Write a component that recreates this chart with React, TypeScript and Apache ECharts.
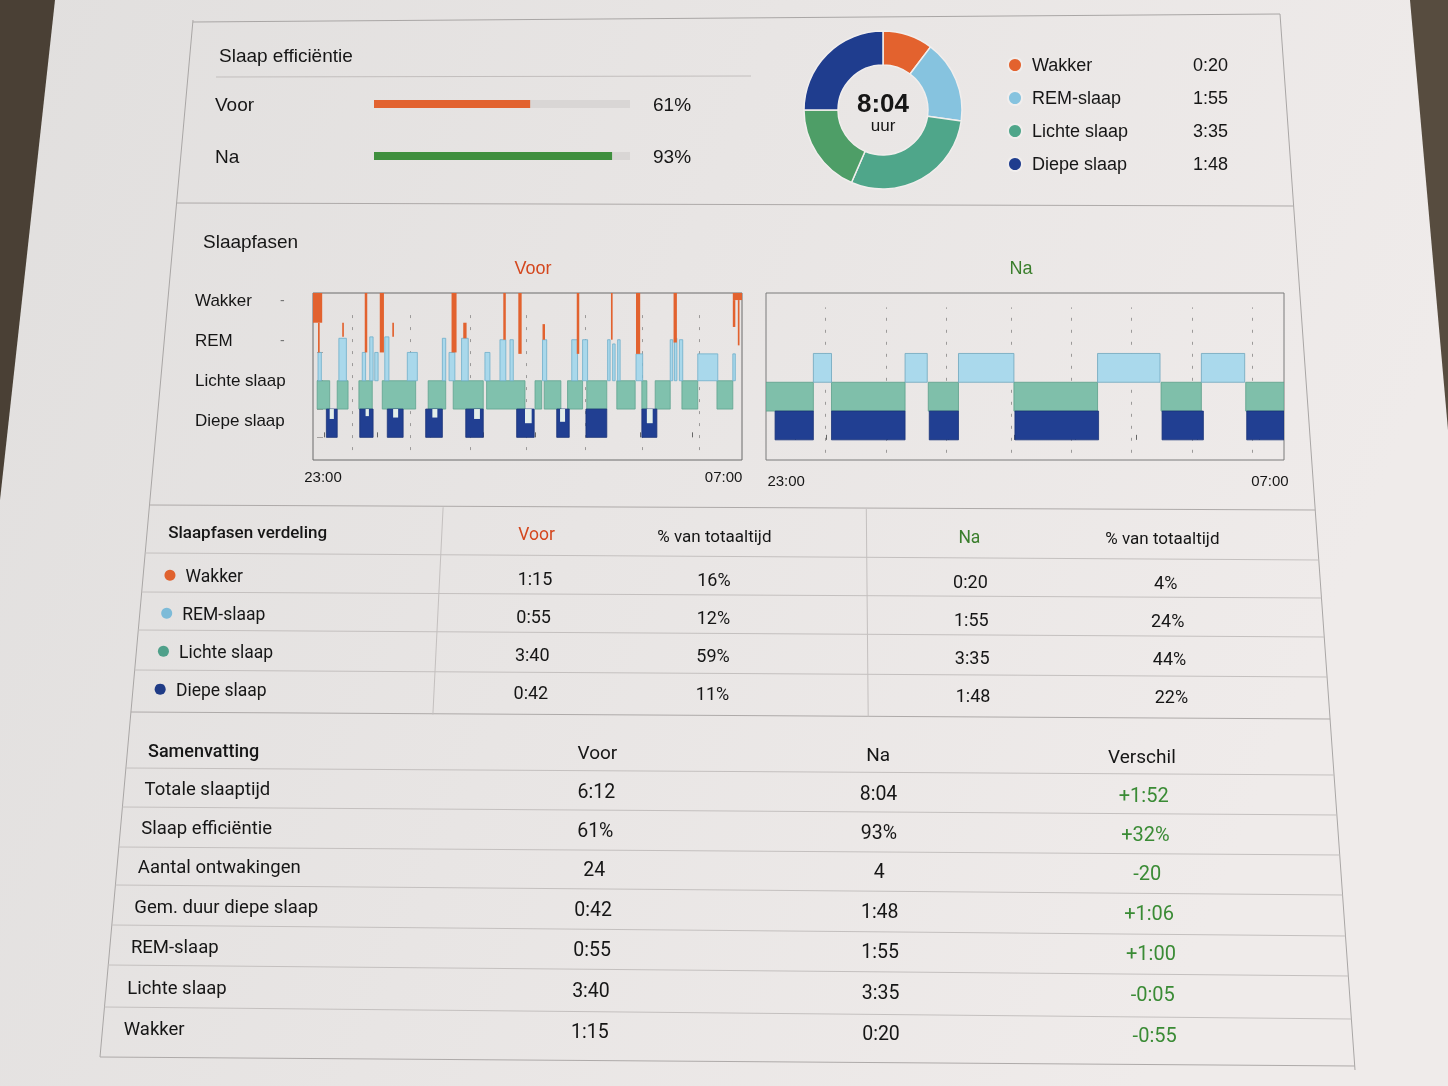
import React, { useEffect, useRef } from 'react';
import * as echarts from 'echarts';

// ---------------- data ----------------
const stages = ['Wakker', 'REM-slaap', 'Lichte slaap', 'Diepe slaap'];
const stageAxisLabels = ['Wakker', 'REM', 'Lichte slaap', 'Diepe slaap'];
const stageDotColors = ['#E0622E', '#7DBBD8', '#4FA08A', '#1F3B86'];
const periods = ['Voor', 'Na'];
const efficiency = [61, 93];
const effColors = ['#E2622F', '#3F8F3E'];
const voorDurations = ['1:15', '0:55', '3:40', '0:42'];
const voorPct = [16, 12, 59, 11];
const naDurations = ['0:20', '1:55', '3:35', '1:48'];
const naPct = [4, 24, 44, 22];
const totalNa = '8:04';
const donutNames = ['Wakker', 'REM-slaap', 'Lichte slaap', 'Lichte slaap', 'Diepe slaap'];
const donutSlices = [37, 61, 105.5, 66.5, 90];
const donutColors = ['#E3622E', '#86C3DF', '#4FA68A', '#4E9E67', '#1F3D8E'];

const summaryLabels = ['Totale slaaptijd', 'Slaap efficiëntie', 'Aantal ontwakingen', 'Gem. duur diepe slaap', 'REM-slaap', 'Lichte slaap', 'Wakker'];
const summaryVoor = ['6:12', '61%', '24', '0:42', '0:55', '3:40', '1:15'];
const summaryNa = ['8:04', '93%', '4', '1:48', '1:55', '3:35', '0:20'];
const summaryDiff = ['+1:52', '+32%', '-20', '+1:06', '+1:00', '-0:05', '-0:55'];

// hypnogram time in minutes after 23:00; stage levels: diep 0-1, licht 1-2, REM 2-3, wakker 3+
const timeLabelMinutes = [0, 480];
const voorLight = [[-7, 8], [17, 30], [43, 59], [71, 111], [126, 147], [156, 192], [196, 242], [254, 262], [265, 285], [293, 311], [316, 340], [352, 374], [382, 388], [398, 416], [430, 449], [472, 491]];
const voorDeep = [[4, 17], [44, 60], [77, 96], [123, 143], [171, 192], [232, 253], [280, 295], [315, 340], [382, 400]];
const voorDeepNotches = [[8, 13, 0.65], [51, 55, 0.75], [84, 90, 0.7], [131, 137, 0.7], [181, 188, 0.65], [242, 250, 0.5], [284, 290, 0.55], [388, 395, 0.5]];
const voorRem = [
  [-6, -2, 3.0], [19, 28, 3.5], [47, 51, 3.0], [56, 60, 3.55], [62, 66, 3.0], [74, 79, 3.55],
  [101, 113, 3.0], [143, 147, 3.5], [151, 158, 3.0], [166, 174, 3.5], [194, 200, 3.0],
  [212, 219, 3.45], [224, 228, 3.45], [263, 268, 3.45], [298, 305, 3.45], [311, 317, 3.45],
  [341, 344, 3.45], [347, 350, 3.3], [353, 356, 3.45], [375, 383, 2.95],
  [416, 419, 3.45], [421, 424, 3.5], [427, 431, 3.45], [449, 473, 2.95], [491, 494, 2.95],
];
const voorWake = [
  [-12, -1, 4.05, 5.1], [-6, -4, 3.0, 4.05], [23, 25, 3.55, 4.05], [50, 53, 3.0, 5.1], [68, 73, 3.0, 5.1],
  [83, 85, 3.55, 4.05], [154, 160, 3.0, 5.1], [168, 172, 3.5, 4.05], [216, 219, 3.45, 5.1],
  [234, 238, 2.95, 5.1], [263, 266, 3.45, 4.0], [304, 307, 2.95, 5.1], [345, 347, 3.45, 5.1],
  [375, 380, 2.95, 5.1], [420, 424, 3.35, 5.1], [491, 502, 4.85, 5.1], [491, 494, 3.9, 4.85], [497, 499, 3.25, 4.85],
];
const voorTicks = [2, 65, 128, 192, 254, 316, 380, 442];
const voorDashes = [35, 105, 177, 244, 314, 382, 451];

const naLight = [[-20, 27], [45, 118], [141, 171], [226, 309], [372, 412], [456, 494]];
const naDeep = [[-11, 27], [45, 118], [142, 171], [227, 310], [373, 414], [457, 494]];
const naRem = [[27, 45], [118, 140], [171, 226], [309, 371], [412, 455]];
const naTicks = [9, 40, 100, 161, 226, 287, 347, 408, 469];
const naDashes = [39, 99, 159, 223, 283, 342, 403, 462];

// ---------------- helpers ----------------
const FA = '"Liberation Sans", Arial, sans-serif';
const FR = 'Roboto, "Liberation Sans", sans-serif';
const INK = '#161616';
const ORANGE_T = '#D4471E';
const GREEN_T = '#3A7E2C';
const GREEN_D = '#3A8B35';

const pad = (n: number) => (n < 10 ? '0' + n : '' + n);
const fmtTime = (v: number) => {
  const m = (((23 * 60 + Math.round(v)) % 1440) + 1440) % 1440;
  return pad(Math.floor(m / 60)) + ':' + pad(m % 60);
};

const Lx = (y: number) => 193 - (93 * (y - 20)) / 1037;
const Rx = (y: number) => 1280 + (75 * (y - 14)) / 1056;
const at = (u: number, yc: number, slope = 0.0063) => {
  const x = Lx(yc) + u * (Rx(yc) - Lx(yc));
  return [x, yc + slope * (x - 140)];
};

function txt(text: string, x: number, y: number, o: any = {}) {
  return {
    type: 'text',
    x,
    y,
    z: 20,
    silent: true,
    style: {
      text,
      fill: o.fill || INK,
      fontSize: o.size || 17,
      fontFamily: o.family || FR,
      fontWeight: o.weight || 'normal',
      align: o.align || 'left',
      verticalAlign: 'middle',
    },
  };
}
function line(x1: number, y1: number, x2: number, y2: number, stroke = '#bdb9b8', w = 1) {
  return { type: 'line', z: 5, silent: true, shape: { x1, y1, x2, y2 }, style: { stroke, lineWidth: w } };
}

function rectSeries(name: string, idx: number, items: number[][], fill: string, stroke: string | null, z: number, extra: any = {}) {
  return {
    type: 'custom',
    name,
    xAxisIndex: idx,
    yAxisIndex: idx,
    clip: true,
    z,
    silent: true,
    encode: { x: [0, 1], y: [2, 3] },
    data: items,
    renderItem: (_p: any, api: any) => {
      const a = api.coord([api.value(0), api.value(3)]);
      const b = api.coord([api.value(1), api.value(2)]);
      return {
        type: 'rect',
        shape: { x: a[0], y: a[1], width: Math.max(b[0] - a[0], 1.2), height: b[1] - a[1] },
        style: { fill, stroke: stroke || undefined, lineWidth: stroke ? 0.8 : 0 },
      };
    },
    ...extra,
  };
}

function dashMarks(dashes: number[]) {
  return {
    silent: true,
    symbol: ['none', 'none'],
    z: 1,
    label: { show: false },
    lineStyle: { color: '#9c9a99', type: [3, 9], width: 1 },
    data: dashes.map((v) => [{ coord: [v, -0.45] }, { coord: [v, 4.6] }]),
  };
}

export default function App() {
  const ref = useRef<HTMLDivElement>(null);
  useEffect(() => {
    if (!ref.current) return;
    const chart = echarts.init(ref.current, undefined, { renderer: 'svg', width: 1448, height: 1086 });

    const g: any[] = [];
    // paper & surroundings
    g.push({
      type: 'rect', z: -10, silent: true, shape: { x: 0, y: 0, width: 1448, height: 1086 },
      style: { fill: new echarts.graphic.LinearGradient(0, 0, 1, 0.3, [{ offset: 0, color: '#E1DFDE' }, { offset: 1, color: '#EFEBEA' }]) },
    });
    g.push({ type: 'polygon', z: -9, silent: true, shape: { points: [[0, 0], [55, 0], [0, 500]] }, style: { fill: '#4A4035' } });
    g.push({ type: 'polygon', z: -9, silent: true, shape: { points: [[1410, 0], [1448, 0], [1448, 430]] }, style: { fill: '#574C3F' } });

    // outer frame
    g.push(line(193, 22, 1280, 14, '#a9a6a5'));
    g.push(line(193, 20, 100, 1057, '#a9a6a5'));
    g.push(line(1280, 14, 1355, 1070, '#a9a6a5'));
    const hLines = [[203, 206], [505, 510], [553, 560], [592, 598], [630, 637], [670, 677], [712, 719], [768, 775], [807, 815], [847, 855], [885, 895], [925, 936], [965, 976], [1007, 1019], [1057, 1066]];
    hLines.forEach(([yl, yr], i) => g.push(line(Lx(yl), yl, Rx(yr), yr, i === 0 || i === 1 || i === 6 || i === 14 ? '#aeaaa9' : '#c4c0bf')));
    [0.252, 0.615].forEach((u) => {
      const xt = Lx(507) + u * (Rx(509) - Lx(507));
      const xb = Lx(715) + u * (Rx(717) - Lx(715));
      g.push(line(xt, 506 + u * 5, xb, 713 + u * 6, '#c4c0bf'));
    });

    // top section
    g.push(txt('Slaap efficiëntie', 219, 55, { size: 19, family: FA }));
    g.push(line(216, 77, 751, 76, '#c2bebd'));
    g.push(txt(totalNa, 883, 103, { size: 26, family: FA, weight: 'bold', align: 'center' }));
    g.push(txt('uur', 883, 125, { size: 17, family: FA, align: 'center' }));

    // middle section
    g.push(txt('Slaapfasen', 203, 241, { size: 19, family: FA }));
    g.push(txt(periods[0], 533, 268, { size: 18, family: FA, fill: ORANGE_T, align: 'center' }));
    g.push(txt(periods[1], 1021, 268, { size: 18, family: FA, fill: GREEN_T, align: 'center' }));

    // table 1
    const h1 = 532;
    let p = at(0.018, h1); g.push(txt('Slaapfasen verdeling', p[0], p[1], { size: 17, weight: 500 }));
    p = at(0.333, h1); g.push(txt(periods[0], p[0], p[1], { size: 17.5, fill: ORANGE_T, align: 'center' }));
    p = at(0.485, h1); g.push(txt('% van totaaltijd', p[0], p[1], { size: 17, align: 'center' }));
    p = at(0.703, h1); g.push(txt(periods[1], p[0], p[1], { size: 17.5, fill: GREEN_T, align: 'center' }));
    p = at(0.868, h1); g.push(txt('% van totaaltijd', p[0], p[1], { size: 17, align: 'center' }));
    const rows1 = [576, 614, 652, 690];
    stages.forEach((s, i) => {
      const y = rows1[i];
      let q = at(0.0228, y);
      g.push({ type: 'circle', z: 20, silent: true, shape: { cx: q[0], cy: q[1] - 1, r: 5.5 }, style: { fill: stageDotColors[i] } });
      q = at(0.036, y); g.push(txt(s, q[0], q[1], { size: 17.5 }));
      q = at(0.333, y); g.push(txt(voorDurations[i], q[0], q[1], { size: 18, align: 'center' }));
      q = at(0.485, y); g.push(txt(voorPct[i] + '%', q[0], q[1], { size: 18, align: 'center' }));
      q = at(0.703, y); g.push(txt(naDurations[i], q[0], q[1], { size: 18, align: 'center' }));
      q = at(0.869, y); g.push(txt(naPct[i] + '%', q[0], q[1], { size: 18, align: 'center' }));
    });

    // summary table
    const h2 = 750;
    p = at(0.017, h2); g.push(txt('Samenvatting', p[0], p[1], { size: 18, weight: 500 }));
    p = at(0.39, h2); g.push(txt(periods[0], p[0], p[1], { size: 19, align: 'center' }));
    p = at(0.623, h2); g.push(txt(periods[1], p[0], p[1], { size: 19, align: 'center' }));
    p = at(0.842, h2); g.push(txt('Verschil', p[0], p[1], { size: 19, align: 'center' }));
    const rows2 = [789, 828, 867, 907, 947, 988, 1029];
    summaryLabels.forEach((s, i) => {
      const y = rows2[i];
      let q = at(0.017, y); g.push(txt(s, q[0], q[1], { size: 18.5 }));
      q = at(0.39, y); g.push(txt(summaryVoor[i], q[0], q[1], { size: 19.5, align: 'center' }));
      q = at(0.623, y); g.push(txt(summaryNa[i], q[0], q[1], { size: 19.5, align: 'center' }));
      q = at(0.842, y); g.push(txt(summaryDiff[i], q[0], q[1], { size: 20, align: 'center', fill: GREEN_D }));
    });

    const hypAxisX = (idx: number, min: number, max: number, ticks: number[], margin: number) => ({
      type: 'value', gridIndex: idx, min, max,
      axisLine: { show: false },
      splitLine: { show: false },
      axisTick: { show: true, inside: true, length: 5, customValues: ticks, lineStyle: { color: '#666' } },
      axisLabel: { show: true, customValues: timeLabelMinutes, margin, formatter: (v: number) => fmtTime(v), color: INK, fontSize: 15, fontFamily: FA },
    });

    const option: any = {
      animation: false,
      backgroundColor: 'transparent',
      graphic: { elements: g },
      grid: [
        { left: 374, top: 78, width: 256, height: 104, outerBoundsMode: 'none' },
        { left: 313, top: 293, width: 429, height: 167, show: true, borderColor: '#6a6a6a', borderWidth: 1, backgroundColor: 'rgba(0,0,0,0)', outerBoundsMode: 'none' },
        { left: 766, top: 293, width: 518, height: 167, show: true, borderColor: '#7a7a7a', borderWidth: 1, backgroundColor: 'rgba(0,0,0,0)', outerBoundsMode: 'none' },
        { left: 313, top: 280, width: 429, height: 161, outerBoundsMode: 'none' },
      ],
      xAxis: [
        { type: 'value', gridIndex: 0, min: 0, max: 100, show: false },
        hypAxisX(1, -12, 502, voorTicks, 9),
        hypAxisX(2, -20, 494, naTicks, 13),
        { type: 'value', gridIndex: 3, show: false },
      ],
      yAxis: [
        {
          type: 'category', gridIndex: 0, data: periods, inverse: true,
          axisLine: { show: false }, axisTick: { show: false },
          axisLabel: { margin: 159, align: 'left', color: INK, fontSize: 19, fontFamily: FA },
        },
        {
          type: 'value', gridIndex: 1, min: -0.8, max: 5.1,
          axisLine: { show: false }, splitLine: { show: false }, axisLabel: { show: false },
          axisTick: { show: true, length: 6, customValues: [0, 1, 2, 3], lineStyle: { color: '#a5a2a1' } },
        },
        { type: 'value', gridIndex: 2, min: -0.7, max: 5.1, show: false, splitLine: { show: false } },
        {
          type: 'category', gridIndex: 3, data: stageAxisLabels, inverse: true,
          axisLine: { show: false }, axisTick: { show: false },
          axisLabel: {
            margin: 118, align: 'left', color: INK, fontSize: 17, fontFamily: FA,
            formatter: (v: string, i: number) => (i < 2 ? `{n|${v}}{t|-}` : `{n|${v}}`),
            rich: { n: { width: 85, fontSize: 17, fontFamily: FA, color: INK }, t: { fontSize: 14, color: '#777', fontFamily: FA } },
          },
        },
        {
          type: 'category', gridIndex: 0, position: 'right', data: efficiency.map((v) => v + '%'), inverse: true,
          axisLine: { show: false }, axisTick: { show: false },
          axisLabel: { margin: 23, align: 'left', color: INK, fontSize: 19, fontFamily: FA },
        },
      ],
      legend: {
        data: stages,
        orient: 'vertical',
        left: 1002,
        top: 50,
        icon: 'circle',
        itemWidth: 14,
        itemHeight: 14,
        itemGap: 13,
        selectedMode: false,
        formatter: (name: string) => `{s| }{n|${name}}{v|${naDurations[stages.indexOf(name)]}}`,
        textStyle: {
          color: INK,
          fontFamily: FA,
          fontSize: 18,
          lineHeight: 20,
          rich: {
            s: { width: 5, lineHeight: 20 },
            n: { width: 156, fontSize: 18, fontFamily: FA, color: INK, lineHeight: 20 },
            v: { width: 40, align: 'right', fontSize: 18, fontFamily: FA, color: INK, lineHeight: 20 },
          },
        },
      },
      series: [
        {
          type: 'bar',
          xAxisIndex: 0,
          yAxisIndex: 0,
          barWidth: 8,
          silent: true,
          showBackground: true,
          backgroundStyle: { color: '#D9D6D5' },
          data: efficiency.map((v, i) => ({ value: v, itemStyle: { color: effColors[i] } })),
        },
        {
          type: 'pie',
          center: [883, 110],
          radius: [45, 79],
          startAngle: 90,
          clockwise: true,
          silent: true,
          label: { show: false },
          labelLine: { show: false },
          itemStyle: { borderColor: '#F1EEED', borderWidth: 1.5 },
          data: donutSlices.map((v, i) => ({ value: v, name: donutNames[i], itemStyle: { color: donutColors[i] } })),
        },
        // Voor hypnogram
        rectSeries('voorLight', 1, voorLight.map(([s, e]) => [s, e, 1, 2]), '#80C1AD', '#5FA38F', 3, { markLine: dashMarks(voorDashes) }),
        rectSeries('voorDeep', 1, voorDeep.map(([s, e]) => [s, e, 0, 1]), '#213F92', '#1A3478', 4),
        rectSeries('voorDeepNotch', 1, voorDeepNotches.map(([s, e, t]) => [s, e, t, 1]), '#E4EEEA', null, 4.5),
        rectSeries('voorRem', 1, voorRem.map(([s, e, t]) => [s, e, 2, t]), '#A9D8EB', '#6EAECA', 5),
        rectSeries('voorWake', 1, voorWake.map(([s, e, lo, hi]) => [s, e, lo, hi]), '#E2622F', null, 6),
        // Na hypnogram
        rectSeries('naLight', 2, naLight.map(([s, e]) => [s, e, 1, 2]), '#7FBFAA', '#5C9F8A', 3, { markLine: dashMarks(naDashes) }),
        rectSeries('naDeep', 2, naDeep.map(([s, e]) => [s, e, 0, 1]), '#213F92', '#1B3479', 4),
        rectSeries('naRem', 2, naRem.map(([s, e]) => [s, e, 2, 3]), '#AAD9EC', '#6FA6BC', 5),
      ],
    };
    chart.setOption(option);
    return () => chart.dispose();
  }, []);
  return <div ref={ref} style={{ position: 'fixed', left: 0, top: 0, width: 1448, height: 1086 }} />;
}
